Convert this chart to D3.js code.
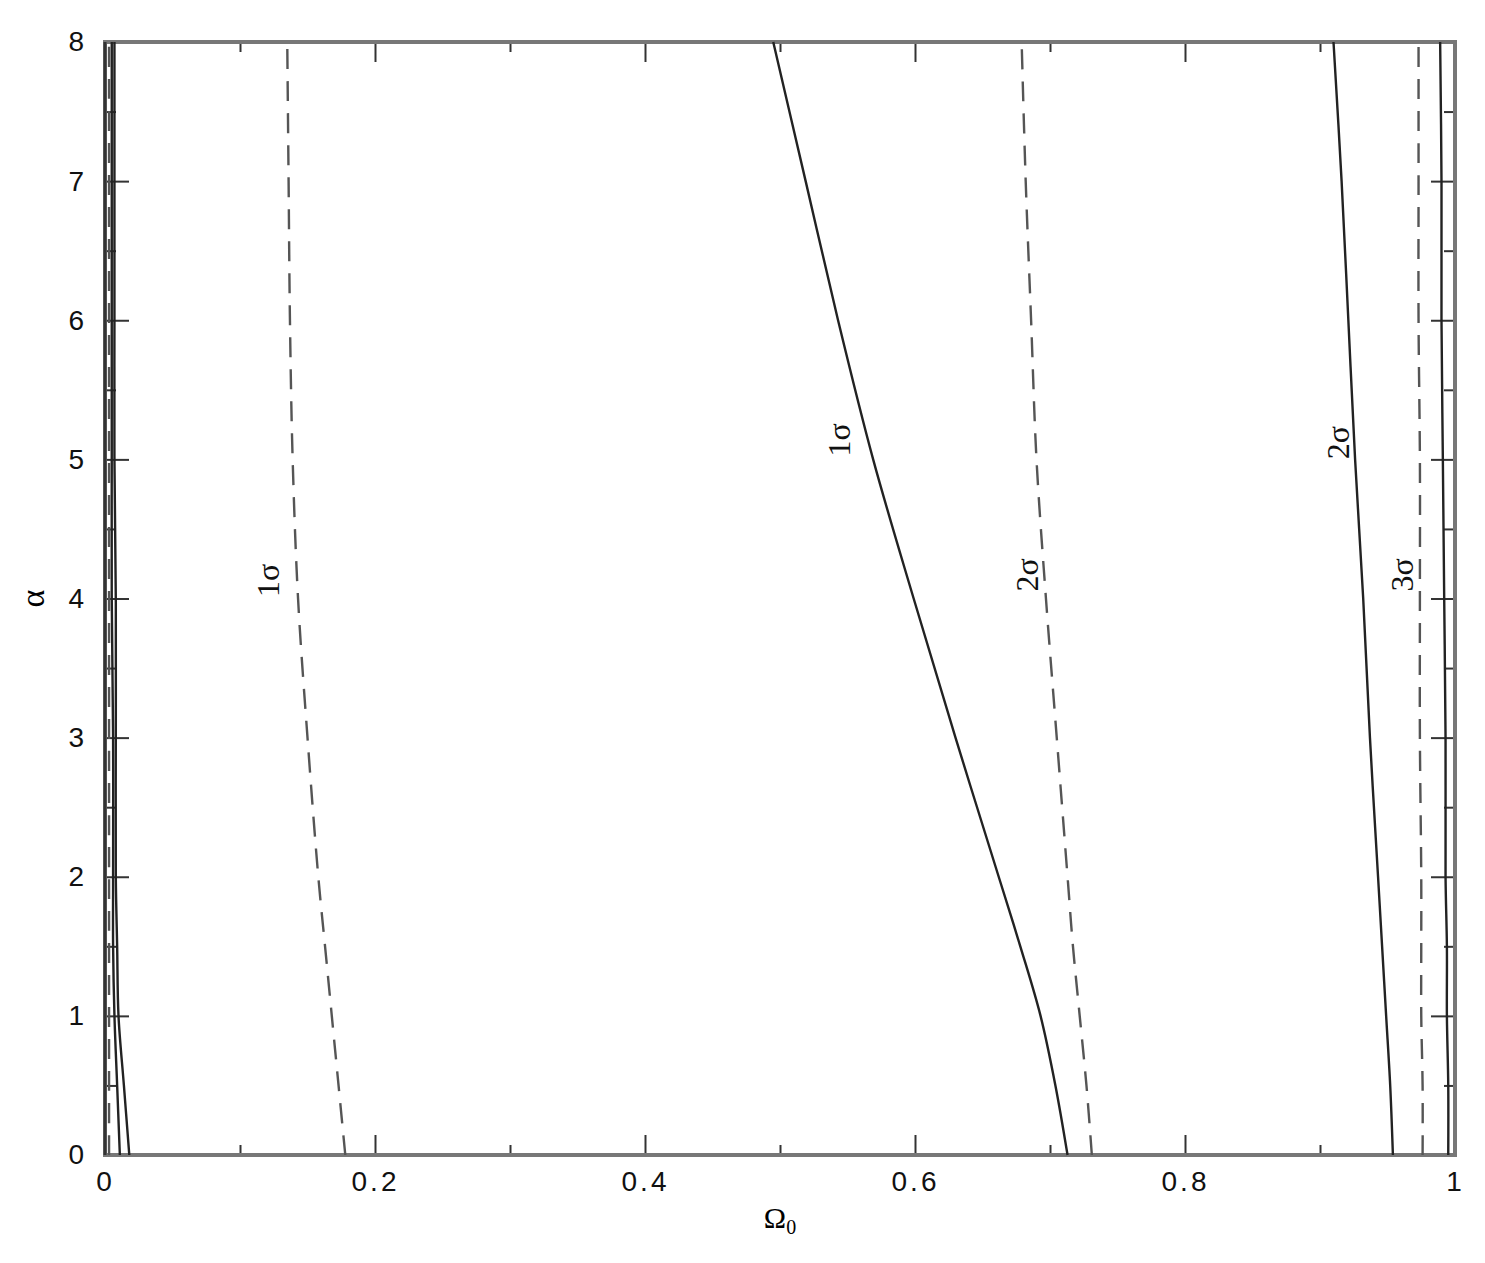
<!DOCTYPE html>
<html>
<head>
<meta charset="utf-8">
<script src="https://cdn.jsdelivr.net/npm/d3@7"></script>
<style>
  body { margin: 0; background: #fff; }
  .tick text { font-family: "Liberation Sans", Arial, sans-serif; font-size: 28px; letter-spacing: 3px; fill: #111; }
</style>
</head>
<body>
<script>
var alphas     = [0, 0.5, 1, 1.5, 2, 3, 4, 5, 6, 7, 8];
// Omega_0 positions of each contour at those alphas
var dash1      = [0.178, 0.173, 0.168, 0.163, 0.158, 0.150, 0.143, 0.139, 0.137, 0.136, 0.135];
var solid1     = [0.713, 0.704, 0.693, 0.678, 0.662, 0.630, 0.599, 0.569, 0.543, 0.519, 0.495];
var dash2      = [0.731, 0.727, 0.722, 0.717, 0.713, 0.705, 0.697, 0.690, 0.686, 0.682, 0.679];
var solid2     = [0.954, 0.952, 0.949, 0.946, 0.943, 0.937, 0.932, 0.926, 0.921, 0.916, 0.910];
var dash3      = [0.976, 0.976, 0.975, 0.975, 0.975, 0.974, 0.974, 0.974, 0.973, 0.973, 0.973];
var solid3     = [0.995, 0.995, 0.994, 0.994, 0.993, 0.993, 0.992, 0.991, 0.990, 0.990, 0.989];
var edgeSolidA = [0.011, 0.009, 0.007, 0.006, 0.006, 0.006, 0.005, 0.005, 0.005, 0.005, 0.005];
var edgeSolidB = [0.018, 0.014, 0.010, 0.009, 0.008, 0.008, 0.008, 0.007, 0.007, 0.007, 0.007];
var edgeDash   = [0.003, 0.003, 0.003, 0.003, 0.003, 0.003, 0.003, 0.003, 0.003, 0.003, 0.003];

// contour labels
var labelText  = ["1σ", "1σ", "2σ", "2σ", "3σ"];
var labelOmega = [0.121, 0.544, 0.683, 0.913, 0.961];
var labelAlpha = [4.13, 5.14, 4.17, 5.12, 4.17];

var xMajor = [0, 0.2, 0.4, 0.6, 0.8, 1];
var xMinor = [0.1, 0.3, 0.5, 0.7, 0.9];
var yMajor = [0, 1, 2, 3, 4, 5, 6, 7, 8];
var yMinor = [0.5, 1.5, 2.5, 3.5, 4.5, 5.5, 6.5, 7.5];

var W = 1485, H = 1263;
var pL = 105, pR = 1455, pT = 42, pB = 1155;

var svg = d3.select("body").append("svg")
    .attr("width", W)
    .attr("height", H);

var x = d3.scaleLinear().domain([0, 1]).range([pL, pR]);
var y = d3.scaleLinear().domain([0, 8]).range([pB, pT]);

var fmtX = function(d) { return d === 0 || d === 1 ? String(d) : d3.format(".1f")(d); };
var noDomain = function(g) { g.select(".domain").remove(); };

// bottom axis with labels
svg.append("g")
    .attr("transform", "translate(0," + pB + ")")
    .call(d3.axisBottom(x).tickValues(xMajor).tickSize(-20).tickPadding(16).tickFormat(fmtX))
    .call(noDomain);
svg.append("g")
    .attr("transform", "translate(0," + pB + ")")
    .call(d3.axisBottom(x).tickValues(xMinor).tickSize(-10).tickFormat(""))
    .call(noDomain);

// top axis, ticks only
svg.append("g")
    .attr("transform", "translate(0," + pT + ")")
    .call(d3.axisTop(x).tickValues(xMajor).tickSize(-20).tickFormat(""))
    .call(noDomain);
svg.append("g")
    .attr("transform", "translate(0," + pT + ")")
    .call(d3.axisTop(x).tickValues(xMinor).tickSize(-10).tickFormat(""))
    .call(noDomain);

// left axis with labels
svg.append("g")
    .attr("transform", "translate(" + pL + ",0)")
    .call(d3.axisLeft(y).tickValues(yMajor).tickSize(-24).tickPadding(18).tickFormat(d3.format("d")))
    .call(noDomain);
svg.append("g")
    .attr("transform", "translate(" + pL + ",0)")
    .call(d3.axisLeft(y).tickValues(yMinor).tickSize(-11).tickFormat(""))
    .call(noDomain);

// right axis, ticks only
svg.append("g")
    .attr("transform", "translate(" + pR + ",0)")
    .call(d3.axisRight(y).tickValues(yMajor).tickSize(-24).tickFormat(""))
    .call(noDomain);
svg.append("g")
    .attr("transform", "translate(" + pR + ",0)")
    .call(d3.axisRight(y).tickValues(yMinor).tickSize(-11).tickFormat(""))
    .call(noDomain);

svg.selectAll(".tick line").attr("stroke", "#333").attr("stroke-width", 2);

// frame
svg.append("rect")
    .attr("x", pL).attr("y", pT)
    .attr("width", pR - pL).attr("height", pB - pT)
    .attr("fill", "none")
    .attr("stroke", "#777")
    .attr("stroke-width", 4);
svg.append("line")
    .attr("x1", pL).attr("x2", pL)
    .attr("y1", pT).attr("y2", pB)
    .attr("stroke", "#333").attr("stroke-width", 3);

var line = d3.line()
    .x(function(d) { return x(d[0]); })
    .y(function(d) { return y(d[1]); })
    .curve(d3.curveCatmullRom);

var series = [
    { v: dash1, dash: true },
    { v: solid1, dash: false },
    { v: dash2, dash: true },
    { v: solid2, dash: false },
    { v: dash3, dash: true },
    { v: solid3, dash: false },
    { v: edgeSolidA, dash: false },
    { v: edgeSolidB, dash: false },
    { v: edgeDash, dash: true }
];

svg.selectAll("path.contour")
    .data(series)
    .enter()
    .append("path")
        .attr("class", "contour")
        .attr("d", function(s) { return line(s.v.map(function(o, i) { return [o, alphas[i]]; })); })
        .attr("fill", "none")
        .attr("stroke", function(s) { return s.dash ? "#555" : "#222"; })
        .attr("stroke-width", 2.4)
        .attr("stroke-dasharray", function(s) { return s.dash ? "20,12" : null; });

// contour labels
svg.selectAll("text.clabel")
    .data(labelText)
    .enter()
    .append("text")
        .attr("class", "clabel")
        .attr("transform", function(d, i) { return "translate(" + x(labelOmega[i]) + "," + y(labelAlpha[i]) + ") rotate(-90)"; })
        .attr("text-anchor", "middle")
        .attr("dominant-baseline", "central")
        .style("font-family", "'Liberation Serif', 'DejaVu Serif', serif")
        .style("font-size", "32px")
        .style("fill", "#111")
        .text(function(d) { return d; });

// axis titles
svg.append("text")
    .attr("transform", "translate(32," + y(4) + ") rotate(-90)")
    .attr("text-anchor", "middle")
    .attr("dominant-baseline", "central")
    .style("font-family", "'Liberation Serif', serif")
    .style("font-size", "34px")
    .text("α");

var xt = svg.append("text")
    .attr("x", x(0.5))
    .attr("y", 1228)
    .attr("text-anchor", "middle")
    .style("font-family", "'Liberation Serif', serif")
    .style("font-size", "30px");
xt.append("tspan").text("Ω");
xt.append("tspan").attr("dy", 6).style("font-size", "20px").text("0");
</script>
</body>
</html>
